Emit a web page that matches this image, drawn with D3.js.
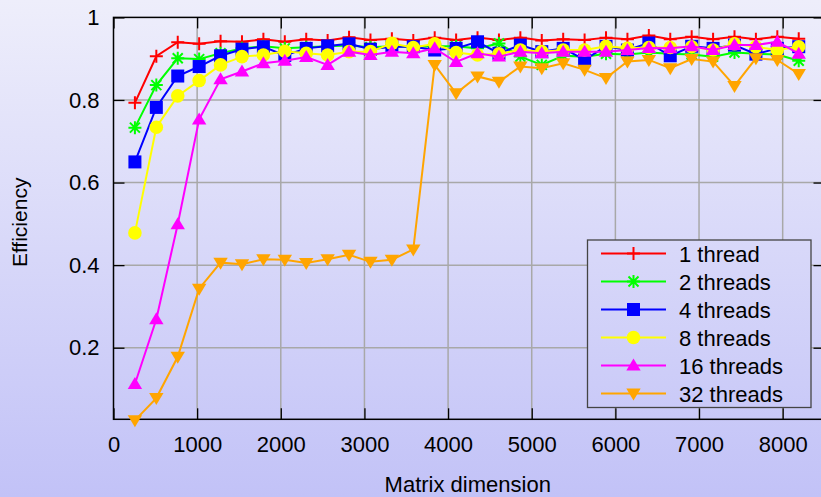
<!DOCTYPE html>
<html>
<head>
<meta charset="utf-8">
<script src="https://cdn.jsdelivr.net/npm/d3@7"></script>
<style>
  body { margin: 0; }
  svg { display: block; font-family: "Liberation Sans", Arial, sans-serif; }
</style>
</head>
<body>
<svg width="821" height="497"></svg>
<script>
// matrix sizes
const sizes = [256, 512, 768, 1024, 1280, 1536, 1792, 2048, 2304, 2560, 2816, 3072, 3328, 3584, 3840, 4096,
               4352, 4608, 4864, 5120, 5376, 5632, 5888, 6144, 6400, 6656, 6912, 7168, 7424, 7680, 7936, 8192];

const t1 = [0.793, 0.906, 0.940, 0.936, 0.942, 0.941, 0.947, 0.941, 0.947, 0.944, 0.952, 0.945, 0.948, 0.944, 0.951, 0.945,
            0.951, 0.945, 0.951, 0.944, 0.947, 0.945, 0.951, 0.947, 0.956, 0.947, 0.953, 0.947, 0.953, 0.947, 0.953, 0.948];
const t2 = [0.733, 0.836, 0.901, 0.899, 0.913, 0.925, 0.930, 0.925, 0.928, 0.930, 0.932, 0.928, 0.930, 0.929, 0.930, 0.930,
            0.925, 0.937, 0.905, 0.885, 0.907, 0.905, 0.912, 0.910, 0.915, 0.912, 0.910, 0.905, 0.915, 0.912, 0.910, 0.895];
const t4 = [0.650, 0.782, 0.858, 0.881, 0.907, 0.923, 0.929, 0.908, 0.925, 0.931, 0.936, 0.923, 0.929, 0.929, 0.921, 0.925,
            0.941, 0.913, 0.933, 0.917, 0.925, 0.897, 0.930, 0.921, 0.938, 0.907, 0.930, 0.925, 0.933, 0.911, 0.925, 0.929];
const t8 = [0.478, 0.734, 0.810, 0.847, 0.885, 0.905, 0.909, 0.918, 0.913, 0.909, 0.917, 0.917, 0.937, 0.927, 0.936, 0.915,
            0.909, 0.912, 0.921, 0.917, 0.921, 0.921, 0.930, 0.925, 0.927, 0.927, 0.929, 0.921, 0.936, 0.929, 0.921, 0.929];
const t16 = [0.112, 0.269, 0.499, 0.753, 0.850, 0.869, 0.889, 0.895, 0.904, 0.885, 0.917, 0.909, 0.917, 0.913, 0.925, 0.892,
             0.913, 0.905, 0.917, 0.913, 0.917, 0.917, 0.917, 0.921, 0.926, 0.925, 0.930, 0.921, 0.933, 0.933, 0.941, 0.912];
const t32 = [0.024, 0.078, 0.178, 0.343, 0.406, 0.402, 0.414, 0.413, 0.405, 0.414, 0.425, 0.408, 0.413, 0.438, 0.885, 0.816,
             0.857, 0.844, 0.881, 0.877, 0.889, 0.873, 0.853, 0.893, 0.897, 0.877, 0.899, 0.893, 0.834, 0.901, 0.897, 0.863];

const names = ["1 thread", "2 threads", "4 threads", "8 threads", "16 threads", "32 threads"];
const colors = ["#ff0000", "#00ff00", "#0000ff", "#ffff00", "#ff00ff", "#ffa500"];
const markers = ["plus", "star", "square", "circle", "up", "down"];
const xTicks = [0, 1000, 2000, 3000, 4000, 5000, 6000, 7000, 8000];
const yTicks = [0.2, 0.4, 0.6, 0.8, 1];

const series = [t1, t2, t4, t8, t16, t32].map((vals, i) => ({
  name: names[i], color: colors[i], marker: markers[i],
  points: vals.map((v, j) => ({ x: sizes[j], y: v }))
}));

const svg = d3.select("svg"),
      width = +svg.attr("width"),
      height = +svg.attr("height");

const pLeft = 113.5, pRight = 824.5, pTop = 17.4, pBottom = 419.3;

const x = d3.scaleLinear().domain([0, 8500]).range([pLeft, pRight]);
const y = d3.scaleLinear().domain([0.0266, 1]).range([pBottom, pTop]);

// background gradient
const grad = svg.append("defs").append("linearGradient")
  .attr("id", "bg").attr("gradientUnits", "userSpaceOnUse")
  .attr("x1", 0).attr("y1", 0).attr("x2", 0).attr("y2", height);
grad.append("stop").attr("offset", 0).attr("stop-color", "#eeeefb");
grad.append("stop").attr("offset", 1).attr("stop-color", "#c2c2f7");

svg.append("rect").attr("width", width).attr("height", height).attr("fill", "url(#bg)");

// grid
const grid = svg.append("g").attr("stroke", "#a8a8a8").attr("stroke-width", 1.5);
grid.selectAll(".gx").data(xTicks.slice(1)).enter().append("line")
  .attr("x1", d => x(d)).attr("x2", d => x(d)).attr("y1", pTop).attr("y2", pBottom);
grid.selectAll(".gy").data(yTicks.slice(0, -1)).enter().append("line")
  .attr("x1", pLeft).attr("x2", pRight).attr("y1", d => y(d)).attr("y2", d => y(d));

// axes (ticks on all four sides, like gnuplot mirror)
const tickLen = 11;
const axisStyle = g => {
  g.select(".domain").remove();
  g.selectAll(".tick line").attr("stroke", "#000").attr("stroke-width", 1.3);
  g.selectAll(".tick text").attr("fill", "#000").attr("font-size", "22px");
};
svg.append("g").attr("transform", `translate(0,${pBottom})`)
  .call(d3.axisBottom(x).tickValues(xTicks).tickSize(-tickLen).tickPadding(17).tickFormat(d3.format("d")))
  .call(axisStyle);
svg.append("g").attr("transform", `translate(0,${pTop})`)
  .call(d3.axisTop(x).tickValues(xTicks).tickSize(-tickLen).tickFormat(""))
  .call(axisStyle);
svg.append("g").attr("transform", `translate(${pLeft},0)`)
  .call(d3.axisLeft(y).tickValues(yTicks).tickSize(-tickLen).tickPadding(14).tickFormat(d => d === 1 ? "1" : d3.format(".1f")(d)))
  .call(axisStyle);
svg.append("g").attr("transform", `translate(${pRight},0)`)
  .call(d3.axisRight(y).tickValues(yTicks).tickSize(-tickLen).tickFormat(""))
  .call(axisStyle);

svg.append("rect")
  .attr("x", pLeft).attr("y", pTop).attr("width", pRight - pLeft).attr("height", pBottom - pTop)
  .attr("fill", "none").attr("stroke", "#000").attr("stroke-width", 1.5);

// axis titles
svg.append("text")
  .attr("x", (pLeft + 822) / 2).attr("y", 492)
  .attr("text-anchor", "middle").attr("font-size", "22px")
  .text("Matrix dimension");
svg.append("text")
  .attr("transform", `translate(27,${(pTop + pBottom) / 2 + 4}) rotate(-90)`)
  .attr("text-anchor", "middle").attr("font-size", "21px")
  .text("Efficiency");

function drawMarker(g, type, color) {
  if (type === "plus") {
    g.append("path").attr("d", "M-6.5,0H6.5M0,-6.5V6.5")
      .attr("stroke", color).attr("stroke-width", 2).attr("fill", "none");
  } else if (type === "star") {
    g.append("path").attr("d", "M-6.5,0H6.5M0,-6.5V6.5M-5,-5L5,5M-5,5L5,-5")
      .attr("stroke", color).attr("stroke-width", 2).attr("fill", "none");
  } else if (type === "square") {
    g.append("rect").attr("x", -6.5).attr("y", -6.5).attr("width", 13).attr("height", 13).attr("fill", color);
  } else if (type === "circle") {
    g.append("circle").attr("r", 6.8).attr("fill", color);
  } else if (type === "up") {
    g.append("path").attr("d", "M0,-7L7.2,5L-7.2,5Z").attr("fill", color);
  } else {
    g.append("path").attr("d", "M0,7L7.2,-5L-7.2,-5Z").attr("fill", color);
  }
}

const line = d3.line().x(d => x(d.x)).y(d => y(d.y));

series.forEach(s => {
  const g = svg.append("g");
  g.append("path").datum(s.points)
    .attr("d", line).attr("fill", "none")
    .attr("stroke", s.color).attr("stroke-width", 2);
  g.selectAll(".pt").data(s.points).enter().append("g")
    .attr("transform", d => `translate(${x(d.x)},${y(d.y)})`)
    .each(function () { drawMarker(d3.select(this), s.marker, s.color); });
});

// legend
const legend = svg.append("g");
legend.append("rect")
  .attr("x", 587.5).attr("y", 240).attr("width", 223.5).attr("height", 167.5)
  .attr("fill", "url(#bg)").attr("stroke", "#444").attr("stroke-width", 1.3);
const item = legend.selectAll(".item").data(series).enter().append("g")
  .attr("transform", (d, i) => `translate(0,${253.5 + i * 28})`);
item.append("line").attr("x1", 601).attr("x2", 666).attr("stroke", d => d.color).attr("stroke-width", 2);
item.append("g").attr("transform", "translate(633.5,0)")
  .each(function (d) { drawMarker(d3.select(this), d.marker, d.color); });
item.append("text").attr("x", 679).attr("y", 8).attr("font-size", "22px").text(d => d.name);
</script>
</body>
</html>
